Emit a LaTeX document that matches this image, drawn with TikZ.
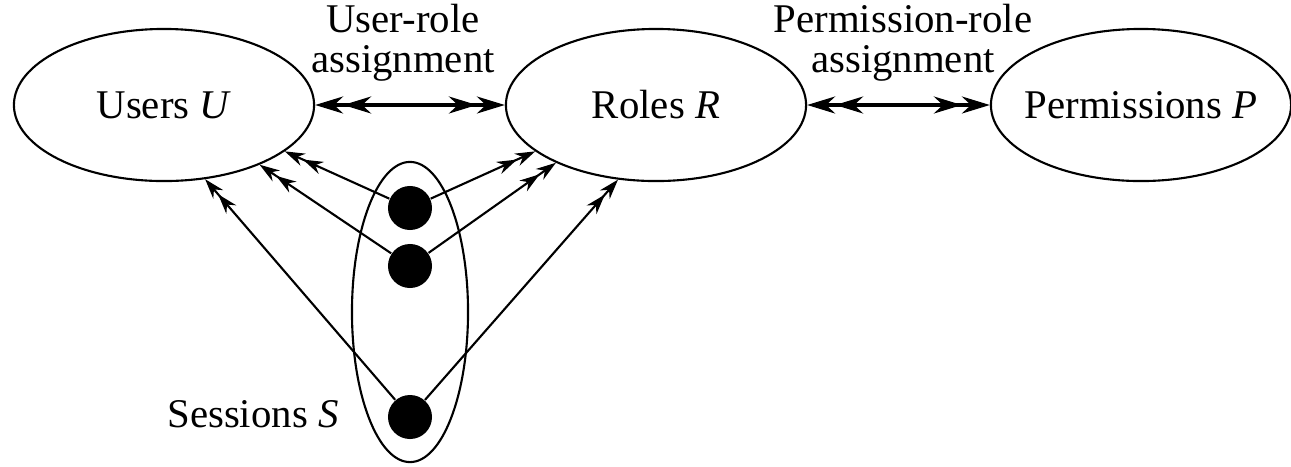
\documentclass[tikz,border=0pt]{standalone}
\usepackage{fontspec}
\setmainfont{Liberation Serif}
\usetikzlibrary{arrows.meta,shapes.geometric}

\begin{document}
\begin{tikzpicture}[x=0.01cm,y=-0.01cm,
  font=\fontsize{11.6}{11.4}\selectfont,
  set/.style={draw,ellipse,line width=0.6pt,inner sep=0pt,minimum width=3cm,minimum height=1.52cm},
  sess/.style={circle,fill=black,inner sep=0pt,minimum size=0.44cm},
  link/.style={line width=0.9pt,{Stealth[length=2.8mm,width=1.7mm]Stealth[length=2.8mm,width=1.7mm]}-{Stealth[length=2.8mm,width=1.7mm]Stealth[length=2.8mm,width=1.7mm]}},
  act/.style={line width=0.6pt,-{Stealth[length=2mm,width=1.3mm]Stealth[length=2mm,width=1.3mm]}}]
  \useasboundingbox (0,0) rectangle (1291,466);

  % the three sets
  \node[set] (users) at (164,105) {\makebox[0pt]{Users \textit{U}}};
  \node[set] (roles) at (656,105) {\makebox[0pt]{Roles \textit{R}}};
  \node[set] (perms) at (1141,105) {\makebox[0pt]{Permissions \textit{P}}};

  % assignments
  \draw[link] (users) -- (roles);
  \draw[link] (roles) -- (perms);
  \node[align=center,inner sep=0pt] (ura) at (403,43) {User-role\\assignment};
  \node[align=center,inner sep=0pt] (pra) at (903,43) {Permission-role\\assignment};

  % sessions
  \node[draw,ellipse,line width=0.6pt,minimum width=1.16cm,minimum height=3cm] (sessions) at (410,312) {};
  \node[sess] (s1) at (410,208) {};
  \node[sess] (s2) at (410,266) {};
  \node[sess] (s3) at (410,417) {};
  \node (slabel) at (253,414) {Sessions \textit{S}};

  \foreach \s/\a/\b in {s1/-21.6/201.2, s2/-32.5/210.8, s3/-61/243.4} {
    \draw[act] (\s) -- (users.\a);
    \draw[act] (\s) -- (roles.\b);
  }
\end{tikzpicture}
\end{document}
